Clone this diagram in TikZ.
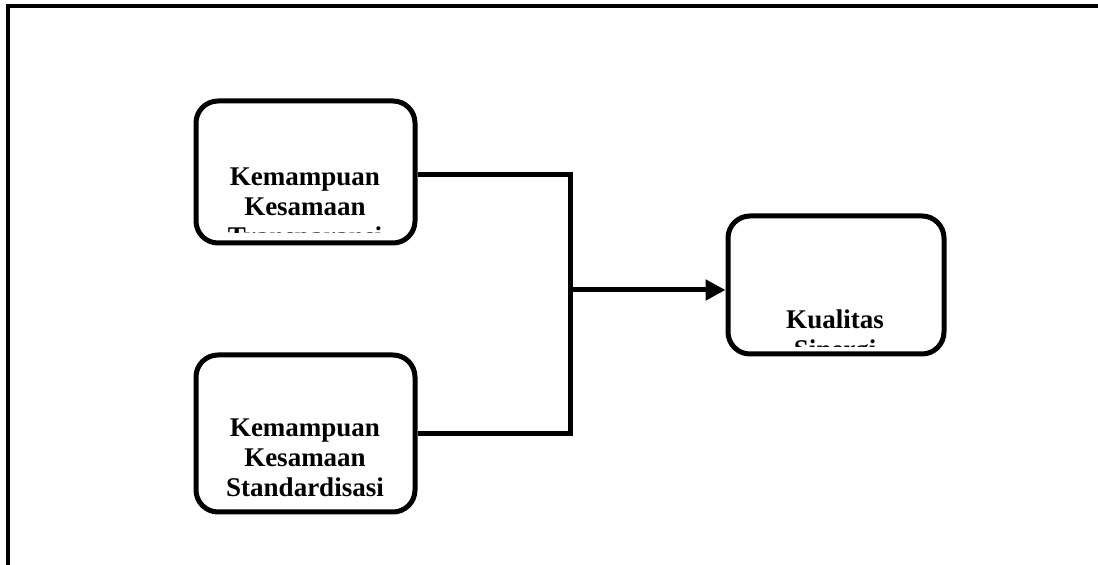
\documentclass[tikz,border=0pt]{standalone}
\usepackage{fontspec}
\setmainfont{Liberation Serif}
\usetikzlibrary{arrows.meta}

\begin{document}
\begin{tikzpicture}[x=0.5pt,y=-0.5pt,
  kotak/.style={draw=black,line width=2.5pt,rounded corners=11pt,inner sep=0pt},
  teks/.style={align=center,inner sep=0pt,font=\fontsize{13.5}{15}\selectfont\bfseries},
  garis/.style={line width=2.5pt}]

\useasboundingbox (0,0) rectangle (1098,565);

% Frame
\draw[line width=2pt] (8,565) -- (8,6) -- (1098,6);

% Boxes
\node[kotak,minimum width=109.5pt,minimum height=71pt] (kt) at (305.5,172) {};
\node[kotak,minimum width=109.5pt,minimum height=78.5pt] (ks) at (305.5,433.5) {};
\node[kotak,minimum width=108pt,minimum height=69pt] (ksin) at (836,285) {};

% Texts (the lower lines are cut off by the boxes)
\begin{scope}
\clip (200,105) rectangle (411,233);
\node[teks] (tkt) at (305,210) {Kemampuan\\Kesamaan\\Transparansi};
\end{scope}
\node[teks] (tks) at (305,457.5) {Kemampuan\\Kesamaan\\Standardisasi};
\begin{scope}
\clip (732,220) rectangle (940,347);
\node[teks] (tksin) at (835,337.5) {Kualitas\\Sinergi};
\end{scope}

% Connectors
\coordinate (cabang) at (570,290);
\draw[garis] ([yshift=-1.5pt]kt.east) -| (cabang) |- (ks.east);
\draw[garis,-{Triangle[length=10pt,width=10pt]}] (cabang) -- (cabang -| ksin.west);
\end{tikzpicture}
\end{document}
